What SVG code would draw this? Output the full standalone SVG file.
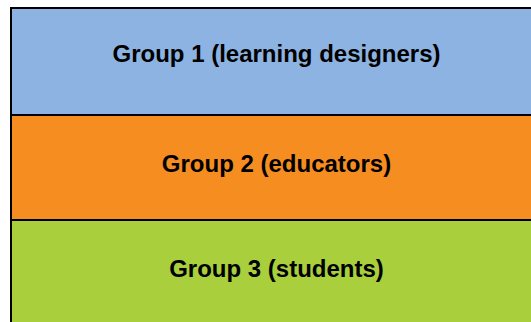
<svg xmlns="http://www.w3.org/2000/svg" width="531" height="322" viewBox="0 0 531 322">
<style>
.box{stroke:#000;stroke-width:2}
.lbl{font-family:"Liberation Sans",Arial,sans-serif;font-weight:bold;font-size:24px;fill:#000;text-anchor:middle}
</style>
<rect width="531" height="322" fill="#fff"/>
<g id="group1">
<rect class="box" x="11" y="8" width="530" height="107" fill="#8DB3E2"/>
<text class="lbl" x="276.5" y="62">Group 1 (learning designers)</text>
</g>
<g id="group2">
<rect class="box" x="11" y="115" width="530" height="105" fill="#F68D20"/>
<text class="lbl" x="276.5" y="172">Group 2 (educators)</text>
</g>
<g id="group3">
<rect class="box" x="11" y="220" width="530" height="110" fill="#A9CF3C"/>
<text class="lbl" x="276.5" y="277">Group 3 (students)</text>
</g>
<g id="connectors"/>
</svg>
